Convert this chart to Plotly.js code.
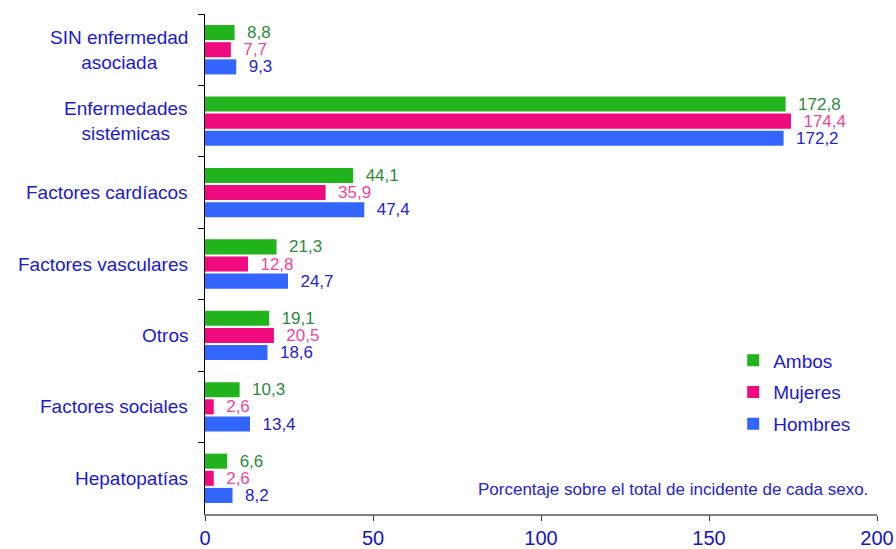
<!DOCTYPE html>
<html><head><meta charset="utf-8">
<script src="https://cdn.plot.ly/plotly-3.0.1.min.js"></script>
<style>html,body{margin:0;padding:0;background:#fff}</style>
</head><body>
<div id="chart" style="width:896px;height:549px"></div>
<script>
const categories = ["SIN enfermedad<br>asociada","Enfermedades<br>sistémicas","Factores cardíacos","Factores vasculares","Otros","Factores sociales","Hepatopatías"];
const ambos   = [8.8, 172.8, 44.1, 21.3, 19.1, 10.3, 6.6];
const mujeres = [7.7, 174.4, 35.9, 12.8, 20.5, 2.6, 2.6];
const hombres = [9.3, 172.2, 47.4, 24.7, 18.6, 13.4, 8.2];
const seriesNames = ["Ambos","Mujeres","Hombres"];
const barColors = ["#22B41C","#F00A80","#3366FF"];
const textColors = ["#2E8B3C","#F0459A","#2424D0"];
const note = "Porcentaje sobre el total de incidente de cada sexo.";
const xTicks = [0,50,100,150,200];

const FONT = "Liberation Sans, Arial, sans-serif";
const fmt = v => "\u00a0\u00a0" + v.toFixed(1).replace(".", ",");
const data = [ambos, mujeres, hombres].map((vals, i) => ({
  type: "bar", orientation: "h", name: seriesNames[i], legendgroup: "g" + i,
  x: vals, y: categories,
  marker: {color: barColors[i]},
  text: vals.map(fmt), textposition: "outside", cliponaxis: false, constraintext: "none",
  textfont: {family: FONT, size: 17, color: textColors[i]},
  hoverinfo: "none"
}));

const annotations = categories.map(c => ({
  xref: "paper", yref: "y", x: -0.022, y: c, text: c,
  xanchor: "right", yanchor: "middle", align: "center", showarrow: false,
  font: {family: FONT, size: 19, color: "#1A1AD2"}
}));
annotations.push({
  xref: "paper", yref: "paper", x: 0.99, y: 0.05, text: note,
  xanchor: "right", yanchor: "middle", showarrow: false,
  font: {family: FONT, size: 17, color: "#2424D0"}
});

const layout = {
  width: 896, height: 549,
  margin: {l: 205, r: 19, t: 14, b: 35},
  paper_bgcolor: "#fff", plot_bgcolor: "#fff",
  barmode: "group", bargap: 0.28, bargroupgap: 0.12,
  showlegend: true,
  legend: {x: 0.786, y: 0.345, xanchor: "left", yanchor: "top", traceorder: "grouped",
    font: {family: FONT, size: 19, color: "#1A1AD2"},
    itemwidth: 30, tracegroupgap: 4, bgcolor: "rgba(0,0,0,0)"},
  xaxis: {range: [0, 200], tickvals: xTicks, ticktext: xTicks.map(String),
    showgrid: false, zeroline: false, showline: true, linecolor: "#808080", linewidth: 1.5,
    ticks: "outside", ticklen: 5, tickcolor: "#333",
    tickfont: {family: FONT, size: 20, color: "#1414C8"}},
  yaxis: {type: "category", autorange: "reversed", showticklabels: false,
    showgrid: false, zeroline: false, showline: true, linecolor: "#000", linewidth: 1.5,
    ticks: "outside", ticklen: 6, tickson: "boundaries", tickcolor: "#000"},
  annotations: annotations
};
Plotly.newPlot("chart", data, layout, {displayModeBar: false, staticPlot: true});
</script>
</body></html>
